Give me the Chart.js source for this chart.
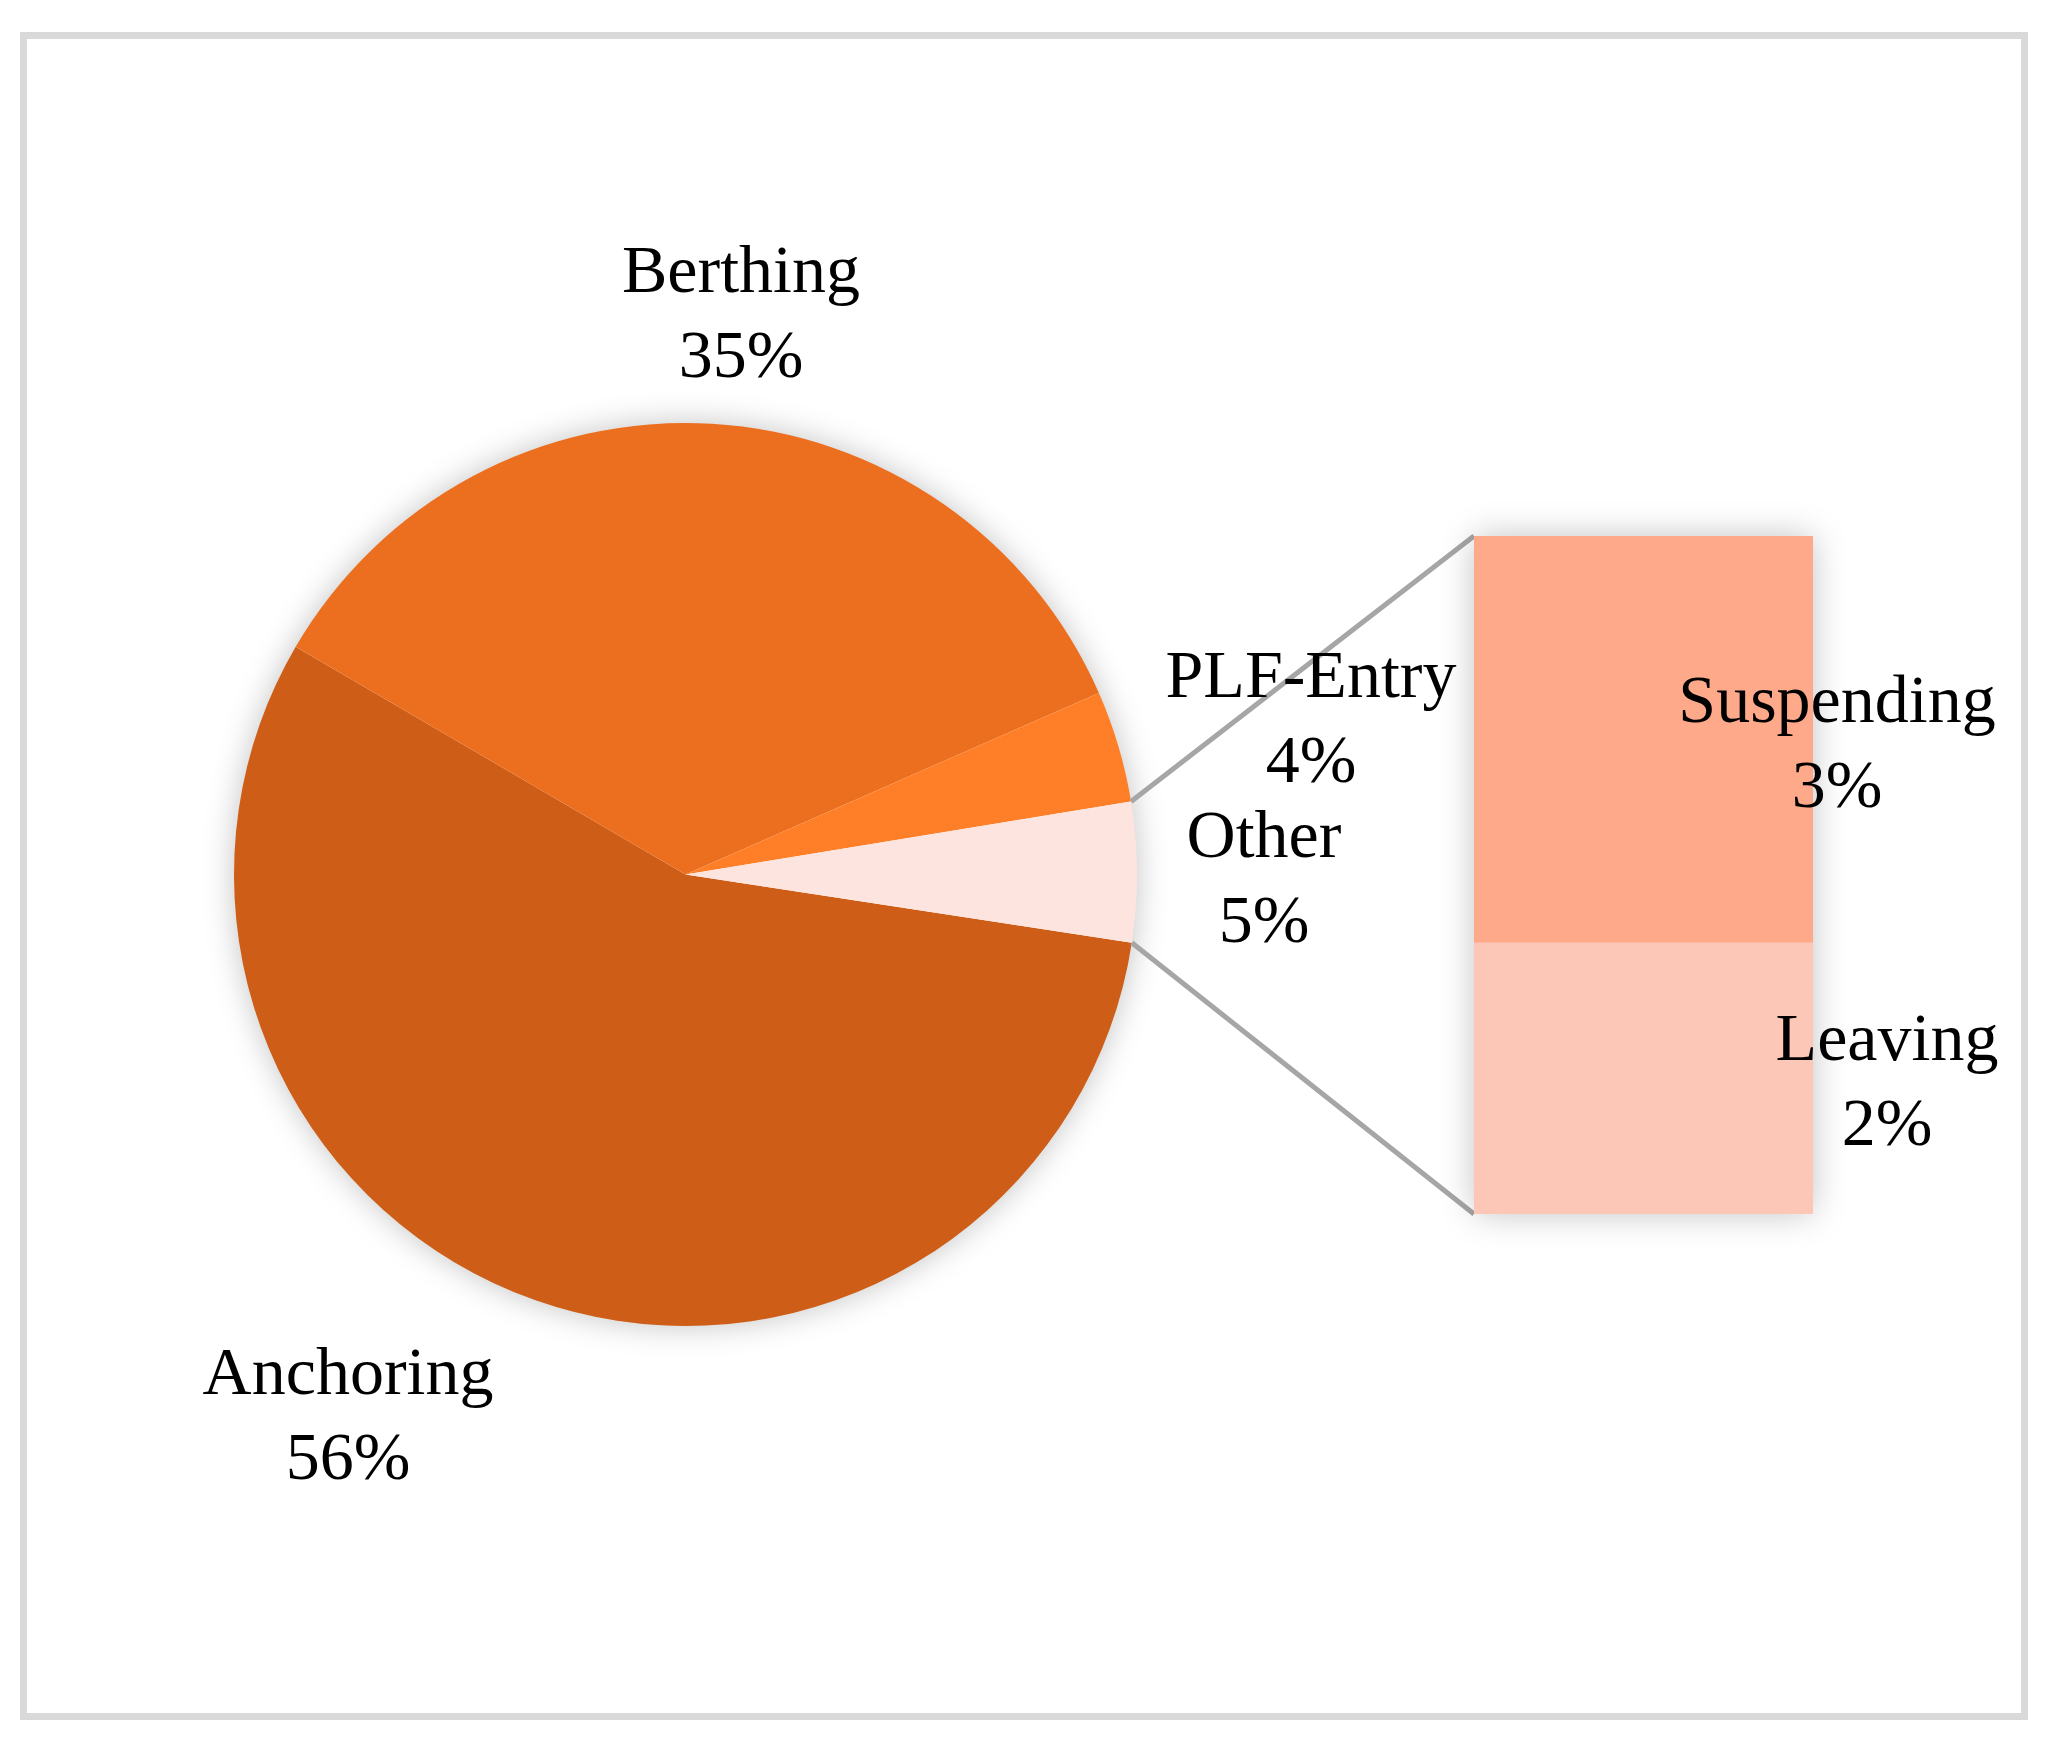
<!DOCTYPE html>
<html>
<head>
<meta charset="utf-8">
<script src="https://cdn.jsdelivr.net/npm/chart.js@4.4.0/dist/chart.umd.min.js"></script>
<style>
  body { margin: 0; background: #fff; }
  #wrap { position: relative; width: 2068px; height: 1748px; }
  #frame { position: absolute; left: 20px; top: 32px; width: 2008px; height: 1688px;
           box-sizing: border-box; border: 7px solid #d9d9d9; }
  canvas { position: absolute; left: 0; top: 0; }
</style>
</head>
<body>
<div id="wrap">
  <div id="frame"></div>
  <canvas id="pieChart" width="2068" height="1748"></canvas>
  <canvas id="barChart" width="2068" height="1748"></canvas>
</div>
<script>
// main pie
const pieLabels = ['Anchoring', 'Berthing', 'PLF-Entry', 'Other'];
const pieValues = [56, 35, 4, 5];
const pieColors = ['#cd5d17', '#ec6f20', '#fe7f28', '#fde4de'];

// breakdown of "Other"
const subLabels = ['Suspending', 'Leaving'];
const subValues = [3, 2];
const subColors = ['#fda98a', '#fdc7b7'];

// label anchors (center x, baseline of first line)
const pieLabelPos = [[348, 1394], [741, 292], [1311, 697], [1264, 857]];
const subLabelPos = [[1837, 722], [1887, 1060]];

const labelFont = '68px "Liberation Serif", "Times New Roman", serif';
const lineGap = 85;

function drawLabel(ctx, name, val, pos) {
  ctx.fillText(name, pos[0], pos[1]);
  ctx.fillText(val + '%', pos[0], pos[1] + lineGap);
}

const pieShadow = {
  id: 'pieShadow',
  beforeDatasetsDraw(chart) {
    const arc = chart.getDatasetMeta(0).data[0];
    const ctx = chart.ctx;
    ctx.save();
    ctx.shadowColor = 'rgba(0,0,0,0.25)';
    ctx.shadowBlur = 32;
    ctx.fillStyle = '#fff';
    ctx.beginPath();
    ctx.arc(arc.x, arc.y, arc.outerRadius - 1, 0, Math.PI * 2);
    ctx.fill();
    ctx.restore();
  }
};

const pieChart = new Chart(document.getElementById('pieChart'), {
  type: 'pie',
  data: {
    labels: pieLabels,
    datasets: [{
      data: pieValues,
      backgroundColor: pieColors,
      borderWidth: 0,
      hoverOffset: 0
    }]
  },
  options: {
    responsive: false,
    animation: false,
    rotation: 98.7,
    layout: { padding: { left: 234, right: 931, top: 423, bottom: 422 } },
    plugins: { legend: { display: false }, tooltip: { enabled: false } }
  },
  plugins: [pieShadow]
});

const barExtras = {
  id: 'barExtras',
  beforeDatasetsDraw(chart) {
    const ctx = chart.ctx;
    const bars = chart.data.datasets.map((d, i) => chart.getDatasetMeta(i).data[0]);
    const left = bars[0].x - bars[0].width / 2;
    const right = bars[0].x + bars[0].width / 2;
    const top = Math.min(...bars.map(b => b.y));
    const bottom = Math.max(...bars.map(b => b.base));

    // connector lines from the "Other" slice to the bar
    const other = pieChart.getDatasetMeta(0).data[pieLabels.indexOf('Other')];
    const r = other.outerRadius;
    ctx.save();
    ctx.strokeStyle = '#a6a6a6';
    ctx.lineWidth = 5;
    ctx.beginPath();
    ctx.moveTo(other.x + r * Math.cos(other.startAngle), other.y + r * Math.sin(other.startAngle));
    ctx.lineTo(left, top);
    ctx.moveTo(other.x + r * Math.cos(other.endAngle), other.y + r * Math.sin(other.endAngle));
    ctx.lineTo(left, bottom);
    ctx.stroke();

    // soft shadow behind the bar
    ctx.shadowColor = 'rgba(0,0,0,0.25)';
    ctx.shadowBlur = 32;
    ctx.fillStyle = '#fff';
    ctx.fillRect(left + 1, top + 1, right - left - 2, bottom - top - 2);
    ctx.restore();
  },
  afterDraw(chart) {
    const ctx = chart.ctx;
    ctx.save();
    ctx.font = labelFont;
    ctx.fillStyle = '#000';
    ctx.textAlign = 'center';
    ctx.textBaseline = 'alphabetic';
    pieLabels.forEach((l, i) => drawLabel(ctx, l, pieValues[i], pieLabelPos[i]));
    subLabels.forEach((l, i) => drawLabel(ctx, l, subValues[i], subLabelPos[i]));
    ctx.restore();
  }
};

// stacked from the bottom, so Leaving goes first
const barSets = subLabels.map((l, i) => ({
  label: l,
  data: [subValues[i]],
  backgroundColor: subColors[i],
  borderWidth: 0,
  barPercentage: 1,
  categoryPercentage: 1
})).reverse();

new Chart(document.getElementById('barChart'), {
  type: 'bar',
  data: { labels: ['Other'], datasets: barSets },
  options: {
    responsive: false,
    animation: false,
    layout: { padding: { left: 1474, right: 255, top: 536, bottom: 534 } },
    scales: {
      x: { stacked: true, display: false },
      y: { stacked: true, display: false, min: 0, max: subValues.reduce((a, b) => a + b, 0) }
    },
    plugins: { legend: { display: false }, tooltip: { enabled: false } }
  },
  plugins: [barExtras]
});
</script>
</body>
</html>
